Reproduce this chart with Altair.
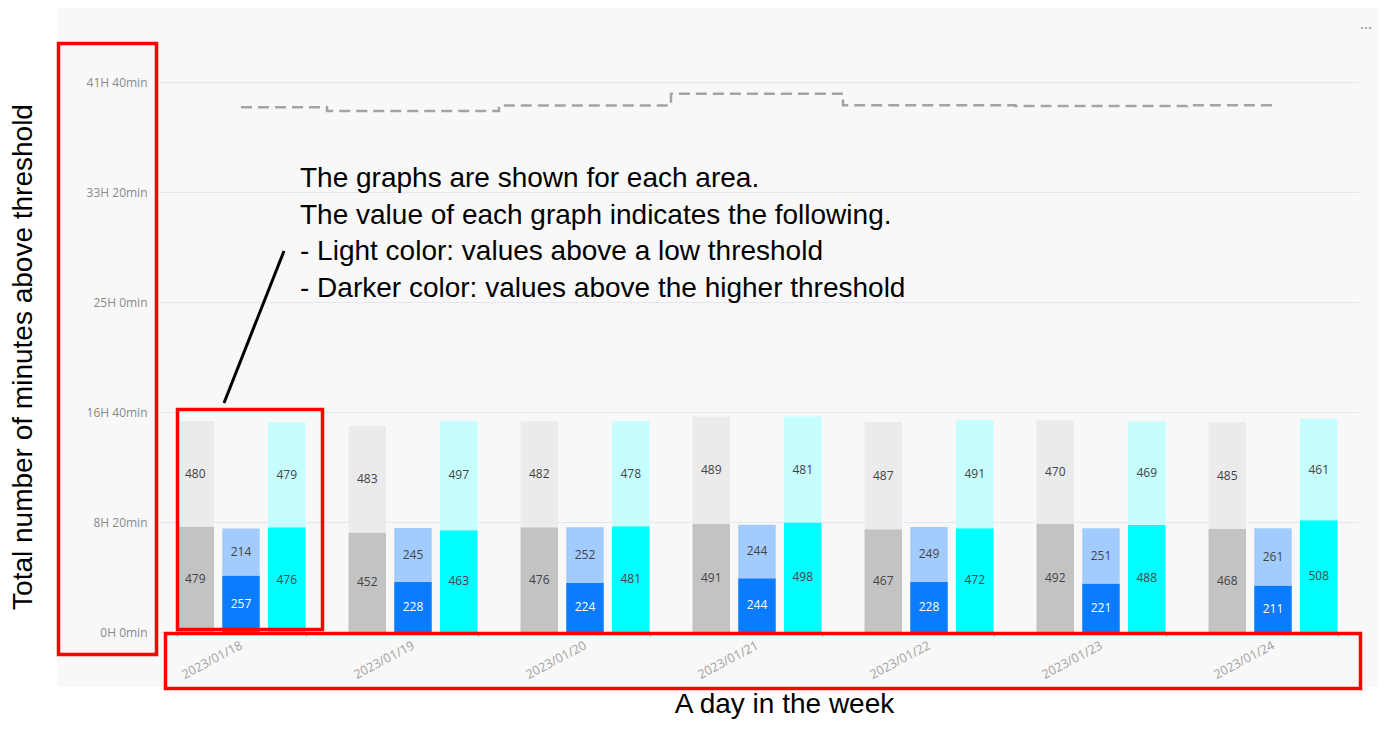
import altair as alt
import pandas as pd

dates = ["2023/01/18", "2023/01/19", "2023/01/20", "2023/01/21",
         "2023/01/22", "2023/01/23", "2023/01/24"]
gray_low = [480, 483, 482, 489, 487, 470, 485]
gray_high = [479, 452, 476, 491, 467, 492, 468]
blue_low = [214, 245, 252, 244, 249, 251, 261]
blue_high = [257, 228, 224, 244, 228, 221, 211]
cyan_low = [479, 497, 478, 481, 491, 469, 461]
cyan_high = [476, 463, 481, 498, 472, 488, 508]

y_ticks = [0, 500, 1000, 1500, 2000, 2500]

series = [
    ("gray", "high", 0, gray_high), ("gray", "low", 1, gray_low),
    ("blue", "high", 0, blue_high), ("blue", "low", 1, blue_low),
    ("cyan", "high", 0, cyan_high), ("cyan", "low", 1, cyan_low),
]
rows = []
for area, level, ordv, vals in series:
    for d, v in zip(dates, vals):
        rows.append({"date": d, "area": area, "level": level, "ord": ordv,
                     "key": area + "_" + level, "value": v})
df = pd.DataFrame(rows)

keys = ["gray_high", "gray_low", "blue_high", "blue_low", "cyan_high", "cyan_low"]
colors = ["#C3C3C3", "#EBEBEB", "#0A7CFF", "#A3CCFE", "#00FFFF", "#C6FEFE"]

x_enc = alt.X("date:O", title=None,
              scale=alt.Scale(paddingInner=0.25, paddingOuter=0.125),
              axis=alt.Axis(labelAngle=332, labelAlign="right", labelBaseline="middle",
                            labelPadding=8, labelFont="Open Sans", labelFontSize=12.5,
                            labelColor="#A0A0A0", tickBand="extent", tickColor="#9A9A9A",
                            tickSize=4, domain=False, grid=False))
xo_enc = alt.XOffset("area:N", sort=["gray", "blue", "cyan"],
                     scale=alt.Scale(paddingInner=0.18, paddingOuter=0))

base = alt.Chart(df).transform_stack(
    stack="value", groupby=["date", "area"], as_=["y0", "y1"],
    sort=[alt.SortField("ord", "ascending")]
)

bars = base.mark_bar().encode(
    x=x_enc,
    xOffset=xo_enc,
    y=alt.Y("y1:Q", title=None,
            scale=alt.Scale(domain=[0, 2500], nice=False),
            axis=alt.Axis(values=y_ticks,
                          labelExpr="floor(datum.value/60) + 'H ' + (datum.value % 60) + 'min'",
                          labelFont="Open Sans", labelFontSize=12, labelColor="#8A8A8A",
                          labelPadding=8, ticks=False, domain=False,
                          gridColor="#E6E6EE", gridWidth=1)),
    y2="y0:Q",
    color=alt.Color("key:N", scale=alt.Scale(domain=keys, range=colors), legend=None),
)

labels = base.transform_calculate(mid="(datum.y0 + datum.y1) / 2").mark_text(
    font="Open Sans", fontSize=12, baseline="middle", align="center"
).encode(
    x=alt.X("date:O"),
    xOffset=alt.XOffset("area:N", sort=["gray", "blue", "cyan"]),
    y=alt.Y("mid:Q"),
    text=alt.Text("value:Q"),
    color=alt.condition(alt.datum.key == "blue_high", alt.value("#FFFFFF"), alt.value("#444444")),
)

total = alt.Chart(df).transform_aggregate(
    total="sum(value)", groupby=["date"]
).mark_line(interpolate="step", strokeDash=[11, 6], strokeWidth=2.5, color="#A4A4A4").encode(
    x=alt.X("date:O"),
    y=alt.Y("total:Q"),
)

one = pd.DataFrame({"a": [0]})

white_left = alt.Chart(one).mark_rect(color="#FFFFFF").encode(
    x=alt.value(-147), x2=alt.value(-98), y=alt.value(-74), y2=alt.value(640))
white_bottom = alt.Chart(one).mark_rect(color="#FFFFFF").encode(
    x=alt.value(-147), x2=alt.value(1223), y=alt.value(605), y2=alt.value(640))


def red_box(x1, x2, y1, y2):
    return alt.Chart(one).mark_rect(fillOpacity=0, stroke="#FF0000", strokeWidth=3.5).encode(
        x=alt.value(x1), x2=alt.value(x2), y=alt.value(y1), y2=alt.value(y2))


box_y = red_box(-96.5, 1.5, -38.5, 572.5)
box_bars = red_box(22.5, 167.5, 327.5, 547.5)
box_x = red_box(10.5, 1205.5, 551.5, 606.5)

pointer = alt.Chart(one).mark_rule(color="#000000", strokeWidth=3).encode(
    x=alt.value(129), y=alt.value(169), x2=alt.value(69), y2=alt.value(321))

callout_text = ("The graphs are shown for each area.\n"
                "The value of each graph indicates the following.\n"
                "- Light color: values above a low threshold\n"
                "- Darker color: values above the higher threshold")
callout = alt.Chart(one).mark_text(
    text=callout_text, lineBreak="\n", lineHeight=36.5, font="Liberation Sans",
    fontSize=28, align="left", baseline="alphabetic", color="#000000"
).encode(x=alt.value(145), y=alt.value(105))

y_title = alt.Chart(one).mark_text(
    text="Total number of minutes above threshold", font="Liberation Sans",
    fontSize=28, angle=270, align="center", baseline="alphabetic", color="#000000"
).encode(x=alt.value(-123), y=alt.value(275))

x_title = alt.Chart(one).mark_text(
    text="A day in the week", font="Liberation Sans",
    fontSize=28, align="center", baseline="alphabetic", color="#000000"
).encode(x=alt.value(629.5), y=alt.value(631))

dots = alt.Chart(one).mark_text(
    text="...", font="Open Sans", fontSize=15, align="center", baseline="middle",
    color="#888888"
).encode(x=alt.value(1211), y=alt.value(-58))

chart = alt.layer(
    white_left, white_bottom, bars, labels, total,
    box_y, box_bars, box_x, pointer, callout, y_title, x_title, dots
).properties(
    width=1204, height=550,
    autosize=alt.AutoSizeParams(type="none"),
    padding={"left": 147, "top": 74, "right": 19, "bottom": 89},
    background="#F8F8F8",
).configure_view(stroke=None)

chart.save("out.html", embed_options={"renderer": "svg", "actions": False})
